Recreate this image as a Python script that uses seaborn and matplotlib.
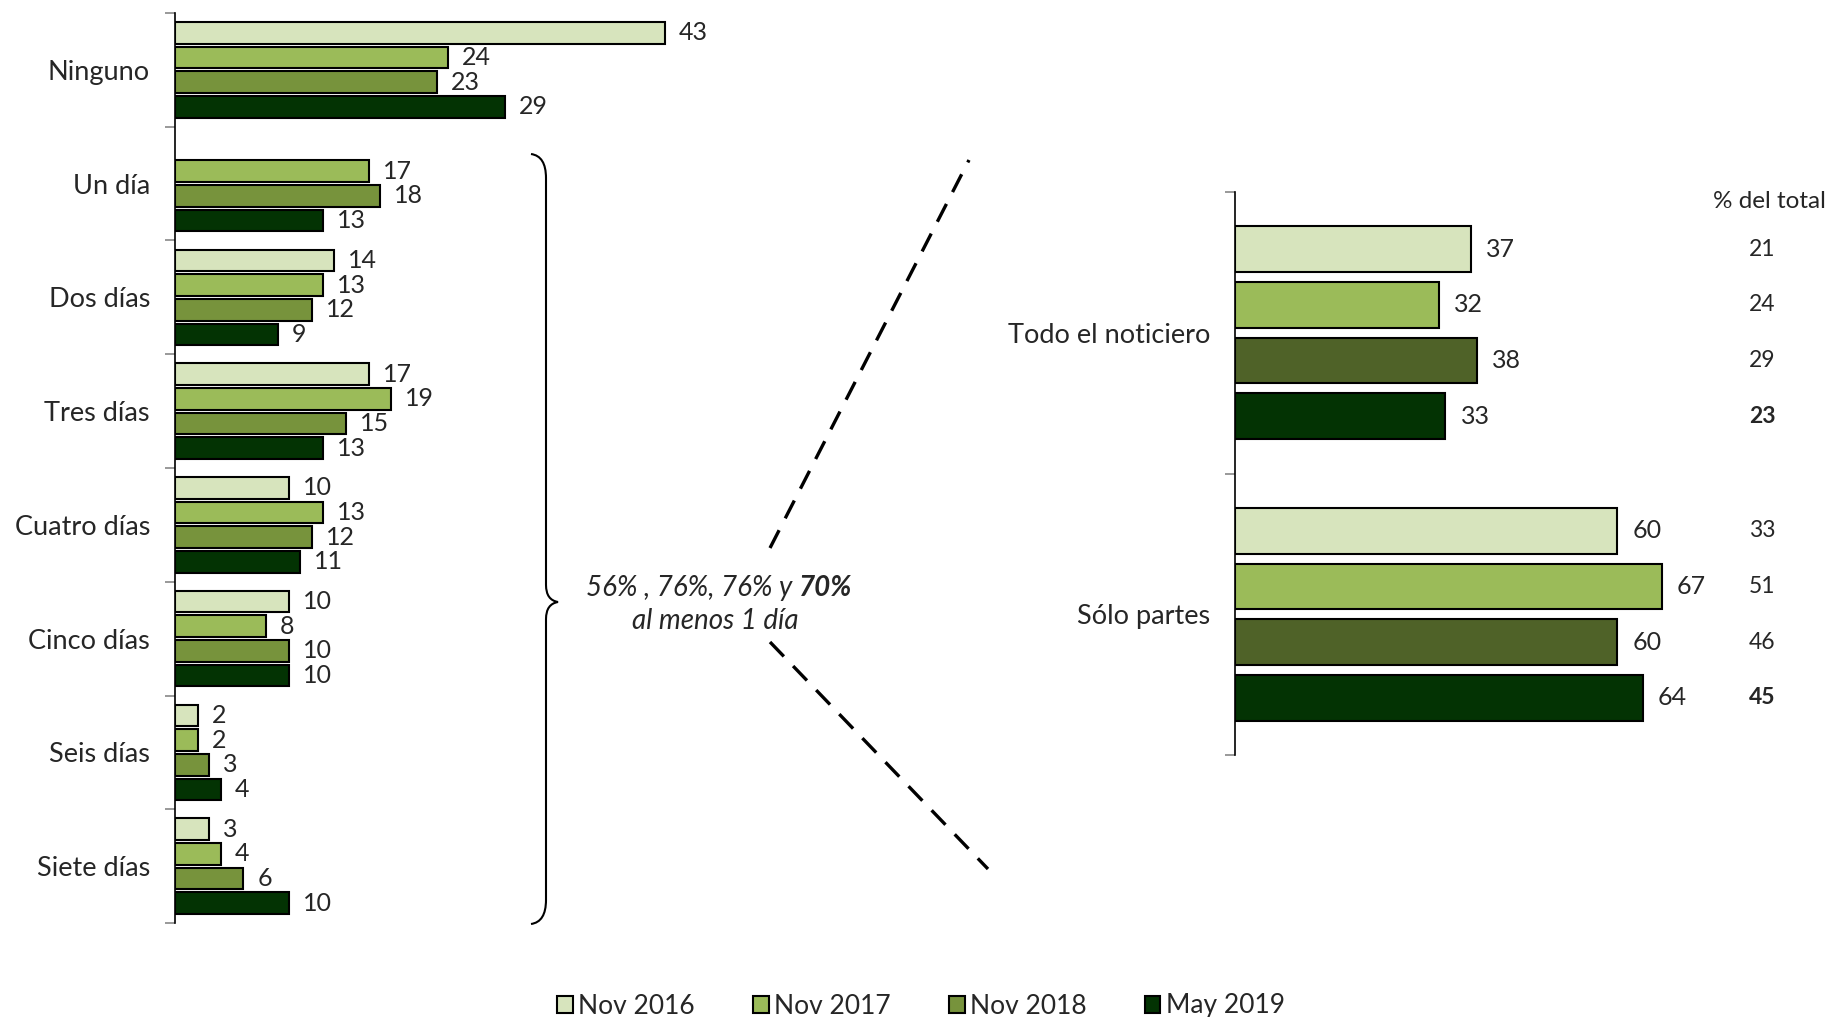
import numpy as np
import pandas as pd
import seaborn as sns
import matplotlib.pyplot as plt
from matplotlib.patches import Patch, PathPatch
from matplotlib.path import Path
from matplotlib.lines import Line2D
from matplotlib.transforms import blended_transform_factory

# Datos: días a la semana que ve el noticiero
periodos = ['Nov 2016', 'Nov 2017', 'Nov 2018', 'May 2019']
dias = ['Ninguno', 'Un día', 'Dos días', 'Tres días', 'Cuatro días',
        'Cinco días', 'Seis días', 'Siete días']
dias_nov16 = [43, np.nan, 14, 17, 10, 10, 2, 3]
dias_nov17 = [24, 17, 13, 19, 13, 8, 2, 4]
dias_nov18 = [23, 18, 12, 15, 12, 10, 3, 6]
dias_may19 = [29, 13, 9, 13, 11, 10, 4, 10]

# Datos: forma en que ve el noticiero
formas = ['Todo el noticiero', 'Sólo partes']
forma_nov16 = [37, 60]
forma_nov17 = [32, 67]
forma_nov18 = [38, 60]
forma_may19 = [33, 64]
pct_todo = [21, 24, 29, 23]
pct_partes = [33, 51, 46, 45]

colores_izq = ['#d7e4bd', '#9bbb59', '#77933c', '#033303']
colores_der = ['#d7e4bd', '#9bbb59', '#4f6228', '#033303']

sns.set_style('white')
plt.rcParams['font.family'] = ['Lato', 'DejaVu Sans']

W, H = 1830, 1017
fig = plt.figure(figsize=(W / 100, H / 100), dpi=100)

def px(x, y):
    return x / W, 1 - y / H

df1 = pd.DataFrame({
    'dias': dias * 4,
    'periodo': np.repeat(periodos, len(dias)),
    'valor': dias_nov16 + dias_nov17 + dias_nov18 + dias_may19,
})
df2 = pd.DataFrame({
    'forma': formas * 4,
    'periodo': np.repeat(periodos, len(formas)),
    'valor': forma_nov16 + forma_nov17 + forma_nov18 + forma_may19,
})

# --- grafico izquierdo
ax1 = fig.add_axes([175 / W, 1 - 923 / H, 525 / W, (923 - 13) / H])
sns.barplot(data=df1, y='dias', x='valor', hue='periodo', order=dias,
            hue_order=periodos, palette=colores_izq, saturation=1, orient='h',
            width=0.87, gap=0.13, edgecolor='black', linewidth=1.5,
            errorbar=None, legend=False, ax=ax1)
ax1.set_xlim(0, 525 / 11.39)
ax1.set_ylim(len(dias) - 0.5, -0.5)

for c in ax1.containers:
    etiquetas = ['' if np.isnan(v) else f'{v:.0f}' for v in c.datavalues]
    ax1.bar_label(c, labels=etiquetas, padding=10, fontsize=18)

# --- grafico derecho
ax2 = fig.add_axes([1235 / W, 1 - 755 / H, 510 / W, (755 - 192) / H])
sns.barplot(data=df2, y='forma', x='valor', hue='periodo', order=formas,
            hue_order=periodos, palette=colores_der, saturation=1, orient='h',
            width=0.79, gap=0.177, edgecolor='black', linewidth=1.5,
            errorbar=None, legend=False, ax=ax2)
ax2.set_xlim(0, 510 / 6.37)
ax2.set_ylim(len(formas) - 0.5, -0.5)

for c in ax2.containers:
    ax2.bar_label(c, fmt='%.0f', padding=11, fontsize=18)

# columna "% del total"
tr = blended_transform_factory(fig.transFigure, ax2.transData)
fig.text(*px(1769, 202), '% del total', ha='center', va='center', fontsize=17.5)
for i, c in enumerate(ax2.containers):
    for j, p in enumerate(c.patches):
        val = [pct_todo, pct_partes][j][i]
        ax2.text(1762 / W, p.get_y() + p.get_height() / 2, f'{val}', transform=tr,
                 ha='center', va='center', fontsize=16.5,
                 fontweight='bold' if i == 3 else 'normal')

for ax in (ax1, ax2):
    sns.despine(ax=ax, top=True, right=True, bottom=True)
    ax.spines['left'].set_color('black')
    ax.spines['left'].set_linewidth(1.2)
    ax.set_xlabel('')
    ax.set_ylabel('')
    ax.set_xticks([])
    n = len(ax.get_yticks())
    ax.set_yticks(np.arange(-0.5, n, 1), minor=True)
    ax.tick_params(axis='y', which='major', length=0, pad=18, labelsize=19.5)
    ax.tick_params(axis='y', which='minor', length=7, color='#888888', width=1.2, left=True)

# llave
verts = [px(531, 154), px(546, 156), px(546, 178), px(546, 585),
         px(546, 600), px(558, 602), px(546, 604), px(546, 619),
         px(546, 900), px(546, 922), px(531, 924)]
codes = [Path.MOVETO, Path.CURVE3, Path.CURVE3, Path.LINETO,
         Path.CURVE3, Path.CURVE3, Path.CURVE3, Path.CURVE3,
         Path.LINETO, Path.CURVE3, Path.CURVE3]
fig.add_artist(PathPatch(Path(verts, codes), transform=fig.transFigure,
                         facecolor='none', edgecolor='black', lw=1.5))

# texto central
fig.text(*px(799, 588), '56% , 76%, 76% y ', ha='right', va='center',
         fontsize=20, style='italic')
fig.text(*px(799, 588), '70%', ha='left', va='center', fontsize=20,
         style='italic', fontweight='bold')
fig.text(*px(715, 621), 'al menos 1 día', ha='center', va='center',
         fontsize=20, style='italic')

# lineas discontinuas
for (x0, y0), (x1, y1) in [((770, 548), (969, 160)), ((770, 642), (988, 869))]:
    fig.add_artist(Line2D([x0 / W, x1 / W], [1 - y0 / H, 1 - y1 / H],
                          transform=fig.transFigure, color='black', lw=2.4,
                          linestyle=(0, (6, 4))))

# leyenda
handles = [Patch(facecolor=col, edgecolor='black', linewidth=1.5) for col in colores_izq]
fig.legend(handles, periodos, loc='center', bbox_to_anchor=px(921, 1006), ncol=4,
           frameon=False, fontsize=19, handlelength=0.6, handleheight=0.6,
           handletextpad=0.2, columnspacing=2.2)

fig.savefig('out.png', dpi=100)
